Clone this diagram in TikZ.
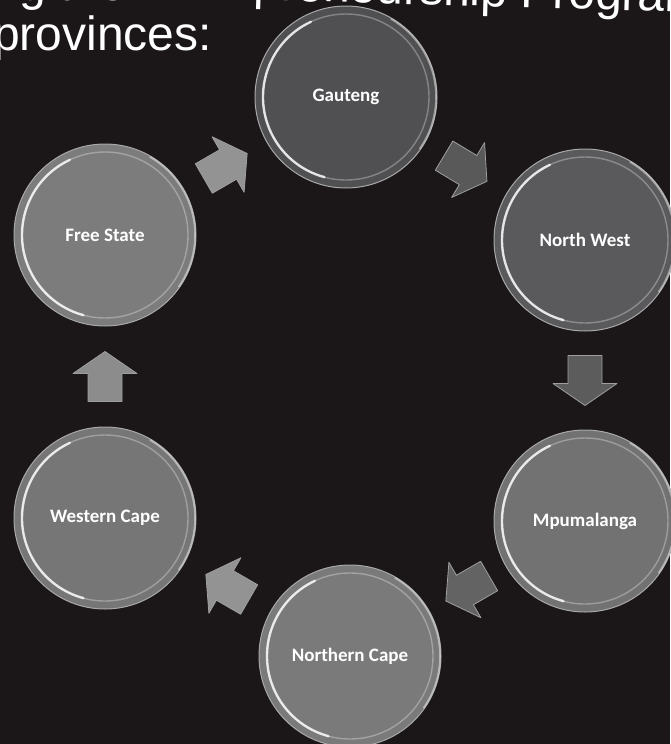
\documentclass[tikz,border=0pt]{standalone}
\usepackage{fontspec}
\setmainfont{Liberation Sans}
\newfontfamily\labelfont{Carlito}
\usetikzlibrary{calc}

\definecolor{bg}{HTML}{1B1617}
\definecolor{rimline}{HTML}{A8A8A8}
\definecolor{gtfill}{HTML}{505052}
\definecolor{nwfill}{HTML}{5A5A5C}
\definecolor{mpfill}{HTML}{727272}
\definecolor{ncfill}{HTML}{7A7A7A}
\definecolor{wcfill}{HTML}{767676}
\definecolor{fsfill}{HTML}{7C7C7C}

\begin{document}
\begin{tikzpicture}[x=1pt,y=-1pt,
  province/.style={circle, minimum size=182pt, inner sep=0pt, fill=#1,
    draw=rimline, line width=1pt, text=white,
    font=\labelfont\bfseries\fontsize{19}{22}\selectfont},
  titletext/.style={inner sep=0pt, text=white, font=\fontsize{48}{48}\selectfont},
  arrowfill/.style={fill=#1, draw=gray!75!white, line width=0.8pt, line join=round},
  blockarrow/.pic={
    \path[arrowfill=\arrowcol] (-25,-17) -- (3,-17) -- (3,-32) -- (25,0)
      -- (3,32) -- (3,17) -- (-25,17) -- cycle;
  }
]
% page and background
\useasboundingbox (0,0) rectangle (670,744);
\fill[bg] (0,0) rectangle (670,744);

% heading, partly cut off at the top and left edges; the first line sags slightly
\node[titletext, anchor=base east] (t1a) at (126,0) {Implementing the};
\begin{scope}[rotate around={-1.6:(257,0)}, transform shape]
  \node[titletext, anchor=base west] (t1b) at (139,0) {Entrepreneurship Programme};
\end{scope}
\node[titletext, anchor=base west] (t2) at (-7,50) {provinces:};

% province circles
\node[province=gtfill] (gt) at (346,97)  {Gauteng};
\node[province=nwfill] (nw) at (585,240) {North West};
\node[province=mpfill] (mp) at (585,521) {Mpumalanga};
\node[province=ncfill] (nc) at (350,656) {Northern Cape};
\node[province=wcfill] (wc) at (105,518) {Western Cape};
\node[province=fsfill] (fs) at (105,235) {Free State};

% glassy inner rim on each circle
\foreach \n in {gt,nw,mp,nc,wc,fs}{
  \draw[white, opacity=0.3, line width=1.4pt] (\n.center) circle[radius=83];
  \draw[white, opacity=0.8, line width=2.4pt, line cap=round]
    ($(\n.center)+(-115:83)$) arc[start angle=-115, end angle=-255, radius=83];
  \draw[white, opacity=0.45, line width=1.6pt, line cap=round]
    ($(\n.center)+(-60:90)$) arc[start angle=-60, end angle=35, radius=90];
}

% block arrows between consecutive provinces
\def\arrowcol{gray!85!white}
\pic[rotate=30]  at ($(fs)!0.5!(gt)$) {blockarrow};
\def\arrowcol{gray!70!black}
\pic[rotate=-31] at ($(gt)!0.5!(nw)$) {blockarrow};
\def\arrowcol{gray!72!black}
\pic[rotate=-90] at ($(nw)!0.5!(mp)$) {blockarrow};
\def\arrowcol{gray!78!black}
\pic[rotate=210] at ($(mp)!0.5!(nc)$) {blockarrow};
\def\arrowcol{gray!85!white}
\pic[rotate=150] at ($(nc)!0.5!(wc)$) {blockarrow};
\def\arrowcol{gray!90!white}
\pic[rotate=90]  at ($(wc)!0.5!(fs)$) {blockarrow};
\end{tikzpicture}
\end{document}
